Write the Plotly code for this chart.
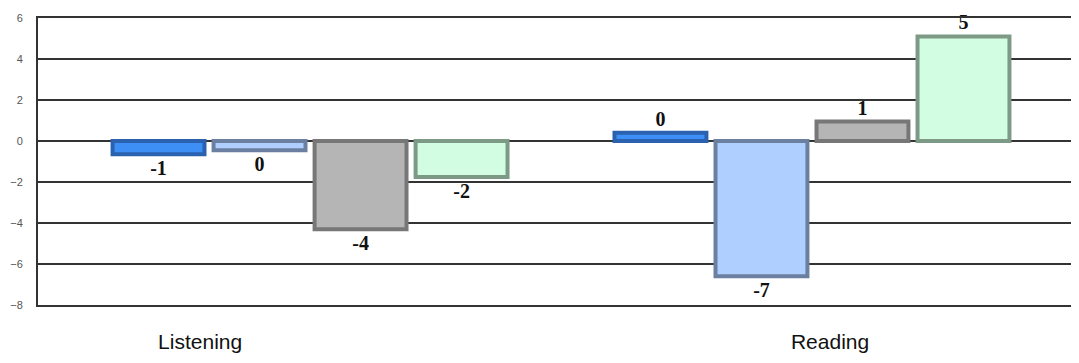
import plotly.graph_objects as go

groups = [0, 1]
group_names = ["Listening", "Reading"]
series1 = [-0.65, 0.4]
series2 = [-0.45, -6.6]
series3 = [-4.3, 0.95]
series4 = [-1.75, 5.1]
labels1 = ["-1", "0"]
labels2 = ["0", "-7"]
labels3 = ["-4", "1"]
labels4 = ["-2", "5"]

fills = ["#3d8ff5", "#aecfff", "#b5b5b5", "#d3fde2"]
edges = ["#2a62b0", "#6b80a0", "#777777", "#7c9a86"]

fig = go.Figure()
for vals, labs, fc, ec in zip([series1, series2, series3, series4],
                              [labels1, labels2, labels3, labels4], fills, edges):
    fig.add_trace(go.Bar(
        x=groups, y=vals, text=labs, textposition="outside",
        textfont=dict(family="Liberation Serif", size=20, color="#111", weight="bold"),
        marker=dict(color=fc, line=dict(color=ec, width=4)),
        cliponaxis=False, showlegend=False,
    ))

# page body adds 8px offset, so margins are reduced by 8
fig.update_layout(
    width=1079, height=363,
    margin=dict(l=30, r=8, t=10, b=66),
    plot_bgcolor="white", paper_bgcolor="white",
    barmode="group", bargap=0.195, bargroupgap=0.09,
    font=dict(family="Liberation Sans"),
)
fig.update_xaxes(
    range=[-0.542, 1.532], showgrid=False, zeroline=False,
    showline=True, mirror=True, linecolor="#333", linewidth=2,
    tickvals=[-0.219, 1.036], ticktext=group_names,
    tickfont=dict(size=21, color="#111"), ticks="", ticklabelstandoff=17,
    automargin=False,
)
fig.update_yaxes(
    range=[-8, 6], dtick=2,
    showgrid=True, gridcolor="#333", gridwidth=2,
    zeroline=True, zerolinecolor="#333", zerolinewidth=2,
    showline=True, linecolor="#333", linewidth=2,
    tickfont=dict(size=11, color="#555"), ticks="", ticklabelstandoff=11,
    automargin=False,
)

fig.write_html("out.html")
